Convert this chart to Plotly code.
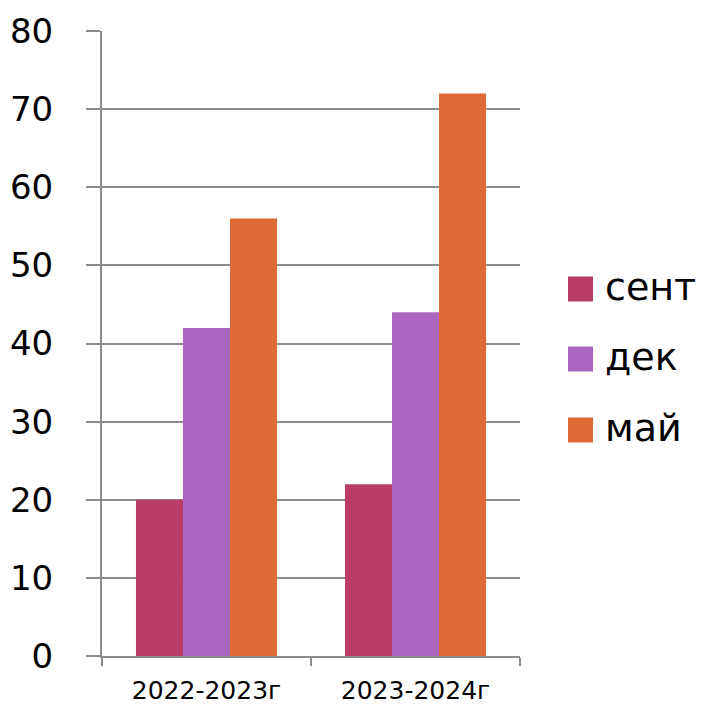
import plotly.graph_objects as go

# Data
categories = ["2022-2023г", "2023-2024г"]
series_names = ["сент", "дек", "май"]
values_sent = [20, 22]
values_dek = [42, 44]
values_mai = [56, 72]
colors = ["#B93D68", "#AA66BE", "#DE6B35"]
y_ticks = [0, 10, 20, 30, 40, 50, 60, 70, 80]

W, H = 705, 707
L, R, T, B = 102, 185, 31, 51
FONT = "DejaVu Sans"
GRID = "#8C8C8C"

x_pos = list(range(len(categories)))
fig = go.Figure()
for name, vals, col in zip(series_names, [values_sent, values_dek, values_mai], colors):
    fig.add_trace(go.Bar(x=x_pos, y=vals, name=name, marker_color=col,
                         marker_line_width=0, showlegend=False))

# Pixel helpers for the side legend
plot_w = W - L - R
plot_h = H - T - B
def px_x(px):
    return (px - L) / plot_w
def px_y(py):
    return (H - B - py) / plot_h

legend_rows = [289, 359, 430]
for name, col, cy in zip(series_names, colors, legend_rows):
    fig.add_shape(type="rect", xref="paper", yref="paper",
                  x0=px_x(568), x1=px_x(593), y0=px_y(cy + 12.5), y1=px_y(cy - 12.5),
                  fillcolor=col, line_width=0)
    fig.add_annotation(xref="paper", yref="paper", x=px_x(603), y=px_y(cy - 2),
                       text=name, showarrow=False, xanchor="left", yanchor="middle",
                       font=dict(family=FONT, size=38, color="black"))

fig.update_layout(
    width=W, height=H,
    margin=dict(l=L, r=R, t=T, b=B, pad=0, autoexpand=False),
    paper_bgcolor="white", plot_bgcolor="white",
    barmode="group", bargap=0.325, bargroupgap=0,
    showlegend=False,
    xaxis=dict(range=[-0.5, len(categories) - 0.5], tickmode="array",
               tickvals=x_pos, ticktext=categories, ticks="",
               showgrid=False, zeroline=False, showline=False, automargin=False,
               tickfont=dict(family=FONT, size=25, color="black"),
               ticklabelstandoff=17),
    xaxis2=dict(range=[-0.5, len(categories) - 0.5], overlaying="x", anchor="y",
                side="bottom", tickmode="array",
                tickvals=[i - 0.5 for i in range(len(categories) + 1)],
                ticks="outside", ticklen=8, tickwidth=2, tickcolor=GRID,
                showticklabels=False, showgrid=False, zeroline=False, automargin=False,
                showline=True, linecolor=GRID, linewidth=2),
    yaxis=dict(range=[0, 80], tickmode="array", tickvals=y_ticks,
               showgrid=True, gridcolor=GRID, gridwidth=2, automargin=False,
               zeroline=False, showline=True, linecolor=GRID, linewidth=2,
               ticks="outside", ticklen=14, tickwidth=2, tickcolor=GRID,
               tickfont=dict(family=FONT, size=34, color="black"),
               ticklabelstandoff=26),
)
# invisible trace to activate the boundary-tick axis
fig.add_trace(go.Scatter(x=[None], y=[None], xaxis="x2", showlegend=False,
                         hoverinfo="skip"))

fig.write_html("out.html")
